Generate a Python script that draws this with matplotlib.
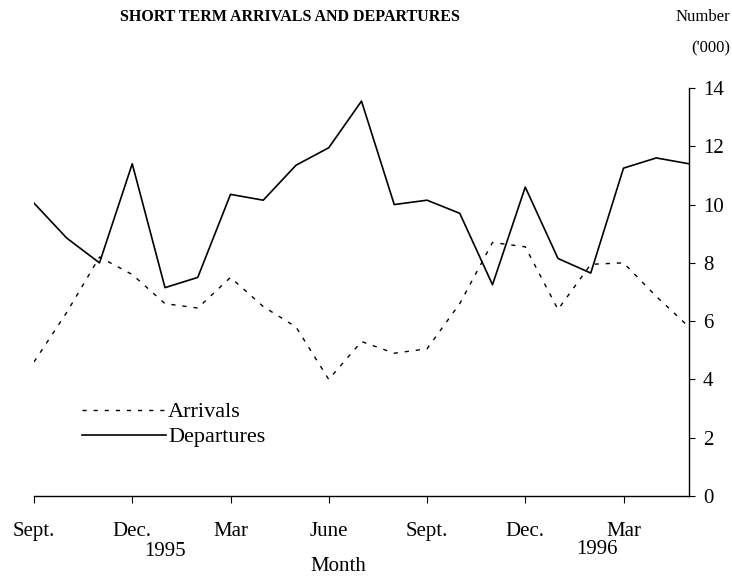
import matplotlib.pyplot as plt
import numpy as np

plt.rcParams['font.family'] = ['Liberation Serif', 'DejaVu Serif']

# Monthly data, Sept 1994 to May 1996 ('000)
months = ['Sep94', 'Oct94', 'Nov94', 'Dec94', 'Jan95', 'Feb95', 'Mar95',
          'Apr95', 'May95', 'Jun95', 'Jul95', 'Aug95', 'Sep95', 'Oct95',
          'Nov95', 'Dec95', 'Jan96', 'Feb96', 'Mar96', 'Apr96', 'May96']
arrivals = [4.6, 6.3, 8.2, 7.6, 6.6, 6.45, 7.5, 6.5, 5.8, 4.0, 5.3,
            4.9, 5.05, 6.6, 8.7, 8.55, 6.4, 7.95, 8.0, 6.85, 5.8]
departures = [10.05, 8.85, 8.0, 11.4, 7.15, 7.5, 10.35, 10.15, 11.35, 11.95, 13.55,
              10.0, 10.15, 9.7, 7.25, 10.6, 8.15, 7.65, 11.25, 11.6, 11.4]

tick_pos = [0, 3, 6, 9, 12, 15, 18]
tick_labels = ['Sept.', 'Dec.', 'Mar', 'June', 'Sept.', 'Dec.', 'Mar']

x = np.arange(len(months))

fig = plt.figure(figsize=(7.32, 5.77), dpi=100)
ax = fig.add_axes([34 / 732, 1 - 496 / 577, 655 / 732, 408 / 577])

ax.plot(x, arrivals, color='black', lw=1.0, linestyle=(0, (3, 5)), label='Arrivals')
ax.plot(x, departures, color='black', lw=1.2, label='Departures')

ax.set_xlim(0, 20)
ax.set_ylim(0, 14)

for s in ['top', 'left']:
    ax.spines[s].set_visible(False)
ax.spines['bottom'].set_linewidth(1.0)
ax.spines['right'].set_linewidth(1.0)

ax.yaxis.tick_right()
ax.set_yticks(np.arange(0, 15, 2))
ax.tick_params(axis='y', direction='out', length=4, pad=6, labelsize=15)
ax.set_xticks(tick_pos)
ax.set_xticklabels(tick_labels)
ax.tick_params(axis='x', direction='out', length=5, pad=14, labelsize=15)

ax.text(4.0, -0.135, '1995', transform=ax.get_xaxis_transform(),
        ha='center', va='center', fontsize=15)
ax.text(17.2, -0.13, '1996', transform=ax.get_xaxis_transform(),
        ha='center', va='center', fontsize=15)
ax.text(9.3, -0.172, 'Month', transform=ax.get_xaxis_transform(),
        ha='center', va='center', fontsize=15)

ax.legend(loc='upper left', bbox_to_anchor=(0.042, 0.28), frameon=False,
          fontsize=16, handlelength=3.8, handletextpad=0.1, labelspacing=0.2)

fig.text(290 / 732, 1 - 17 / 577, 'SHORT TERM ARRIVALS AND DEPARTURES',
         ha='center', va='center', fontsize=11.5, fontweight='bold')
fig.text(730 / 732, 1 - 17 / 577, 'Number', ha='right', va='center', fontsize=12)
fig.text(711 / 732, 1 - 48 / 577, "('000)", ha='center', va='center', fontsize=12)

fig.savefig('out.png', dpi=100)
